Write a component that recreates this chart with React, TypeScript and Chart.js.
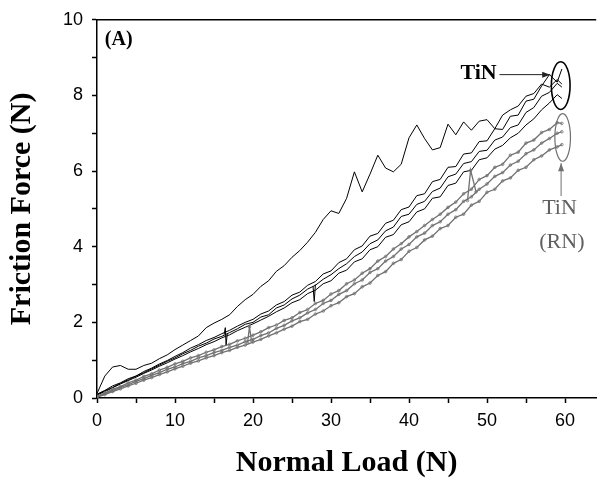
import { useEffect, useRef } from 'react';
import { Chart, registerables } from 'chart.js';

Chart.register(...registerables);

// Normal load sampling (N)
const loadX = [0,1,2,3,4,5,6,7,8,9,10,11,12,13,14,15,16,17,18,19,20,21,22,23,24,25,26,27,28,29,30,31,32,33,34,35,36,37,38,39,40,41,42,43,44,45,46,47,48,49,50,51,52,53,54,55,56,57,58,59,59.6];

// TiN: the outlying scratch run (thin upper trace)
const tinRun0 = [0.12,0.58,0.82,0.86,0.76,0.76,0.86,0.92,1.04,1.14,1.28,1.40,1.52,1.64,1.86,1.98,2.08,2.20,2.42,2.60,2.74,2.95,3.10,3.35,3.50,3.72,3.90,4.12,4.38,4.72,4.95,4.88,5.28,5.98,5.45,5.92,6.42,6.08,5.98,6.18,6.88,7.22,6.86,6.56,6.62,7.24,6.96,7.30,7.08,7.32,7.36,7.12,7.48,7.62,7.72,7.98,8.05,8.30,8.22,8.42,8.30];
// TiN: three overlapping runs
const tinRun1 = [0.10,0.20,0.32,0.40,0.51,0.58,0.70,0.79,0.90,0.99,1.10,1.20,1.32,1.41,1.52,1.60,1.70,1.79,1.90,2.00,2.08,2.22,2.30,2.46,2.55,2.72,2.80,2.98,3.08,3.28,3.36,3.58,3.68,3.92,4.02,4.28,4.35,4.62,4.70,4.98,5.05,5.35,5.40,5.72,5.78,6.10,6.12,6.45,6.48,6.78,6.80,7.12,7.10,7.45,7.48,7.85,7.90,8.25,8.55,8.35,8.70];
const tinRun2 = [0.09,0.19,0.28,0.39,0.48,0.58,0.67,0.77,0.87,0.97,1.06,1.17,1.26,1.37,1.45,1.56,1.63,1.73,1.83,1.95,2.00,2.14,2.20,2.38,2.46,2.62,2.72,2.88,2.98,3.14,3.26,3.42,3.55,3.74,3.86,4.08,4.18,4.42,4.52,4.80,4.86,5.12,5.20,5.46,5.55,5.85,5.92,6.20,6.25,6.52,6.55,6.82,6.90,7.15,7.22,7.55,7.68,7.98,8.08,8.32,8.22];
const tinRun3 = [0.08,0.17,0.27,0.37,0.46,0.55,0.65,0.74,0.84,0.93,1.03,1.12,1.22,1.31,1.41,1.49,1.59,1.67,1.78,1.87,1.96,2.06,2.16,2.28,2.38,2.52,2.60,2.76,2.85,3.02,3.10,3.30,3.38,3.60,3.68,3.92,4.00,4.25,4.32,4.58,4.66,4.92,5.00,5.28,5.32,5.62,5.68,5.98,6.02,6.30,6.35,6.58,6.68,6.88,7.00,7.22,7.38,7.62,7.80,8.02,7.92];
// TiN (RN): three runs
const rnRun1 = [0.05,0.13,0.23,0.30,0.40,0.47,0.57,0.64,0.74,0.81,0.90,0.97,1.06,1.12,1.21,1.27,1.36,1.42,1.51,1.58,1.66,1.75,1.86,1.93,2.05,2.12,2.26,2.34,2.50,2.58,2.75,2.84,3.02,3.12,3.30,3.42,3.62,3.74,3.94,4.08,4.26,4.40,4.56,4.72,4.86,5.04,5.18,5.40,5.52,5.78,5.88,6.10,6.18,6.42,6.50,6.74,6.82,7.02,7.10,7.28,7.26];
const rnRun2 = [0.03,0.12,0.19,0.28,0.35,0.44,0.51,0.60,0.67,0.76,0.82,0.91,0.97,1.06,1.12,1.20,1.26,1.34,1.40,1.49,1.55,1.65,1.72,1.84,1.92,2.04,2.12,2.25,2.34,2.50,2.58,2.74,2.84,3.02,3.12,3.32,3.42,3.62,3.74,3.94,4.06,4.26,4.36,4.56,4.66,4.86,4.98,5.20,5.32,5.52,5.66,5.86,5.96,6.16,6.26,6.46,6.56,6.74,6.86,7.00,7.04];
const rnRun3 = [0.02,0.09,0.17,0.24,0.32,0.39,0.47,0.54,0.62,0.69,0.77,0.84,0.92,0.98,1.06,1.12,1.20,1.26,1.34,1.40,1.48,1.55,1.64,1.72,1.82,1.90,2.02,2.08,2.22,2.30,2.44,2.52,2.68,2.76,2.94,3.04,3.24,3.34,3.56,3.66,3.88,3.98,4.18,4.28,4.48,4.56,4.78,4.86,5.10,5.20,5.44,5.52,5.74,5.82,6.02,6.10,6.30,6.40,6.56,6.64,6.70];

// short transient spikes seen on individual runs
const spikeTinAX = [16.3, 16.45, 16.55, 16.7];
const spikeTinAY = [1.68, 1.86, 1.40, 1.70];
const spikeRnX = [19.3, 19.55, 19.8];
const spikeRnY = [1.46, 1.88, 1.52];
const spikeTinBX = [27.7, 27.85, 28.0];
const spikeTinBY = [2.95, 2.55, 3.00];
const spikeRnBX = [47.5, 47.9, 48.6];
const spikeRnBY = [5.22, 6.02, 5.45];

const xMajorTicks = [0, 10, 20, 30, 40, 50, 60];
const yMajorTicks = [0, 2, 4, 6, 8, 10];

// annotation anchors (data units)
const panelLabel = '(A)';
const panelPos = [1.0, 9.74];
const tinLabel = 'TiN';
const tinLabelPos = [46.6, 8.58];
const tinArrow = [51.6, 8.55, 58.1, 8.55];
const tinEllipse = [59.45, 8.26, 1.2, 0.63];
const rnLabels = ['TiN', '(RN)'];
const rnLabelPos = [[59.3, 5.03], [59.6, 4.13]];
const rnArrow = [59.5, 5.34, 59.5, 6.21];
const rnEllipse = [59.7, 6.89, 1.0, 0.63];

const BLACK = '#000000';
const GRAY = '#707070';

const pts = (xs: number[], ys: number[]) => xs.map((x, i) => ({ x, y: ys[i] }));

function arrow(ctx: CanvasRenderingContext2D, x1: number, y1: number, x2: number, y2: number, color: string) {
  ctx.strokeStyle = color;
  ctx.fillStyle = color;
  ctx.lineWidth = 1;
  ctx.beginPath();
  ctx.moveTo(x1, y1);
  ctx.lineTo(x2, y2);
  ctx.stroke();
  const a = Math.atan2(y2 - y1, x2 - x1);
  const L = 8, W = 3;
  ctx.beginPath();
  ctx.moveTo(x2, y2);
  ctx.lineTo(x2 - L * Math.cos(a) + W * Math.sin(a), y2 - L * Math.sin(a) - W * Math.cos(a));
  ctx.lineTo(x2 - L * Math.cos(a) - W * Math.sin(a), y2 - L * Math.sin(a) + W * Math.cos(a));
  ctx.closePath();
  ctx.fill();
}

const annotPlugin = {
  id: 'annot',
  afterDatasetsDraw(chart: any) {
    const { ctx, chartArea } = chart;
    const xs = chart.scales.x;
    const ys = chart.scales.y;
    const px = (v: number) => xs.getPixelForValue(v);
    const py = (v: number) => ys.getPixelForValue(v);
    ctx.save();
    // top frame line
    ctx.strokeStyle = BLACK;
    ctx.lineWidth = 1.5;
    ctx.beginPath();
    ctx.moveTo(chartArea.left, chartArea.top);
    ctx.lineTo(chartArea.right, chartArea.top);
    ctx.stroke();

    // panel label
    ctx.fillStyle = BLACK;
    ctx.font = "bold 20px 'Liberation Serif', serif";
    ctx.textAlign = 'left';
    ctx.textBaseline = 'top';
    ctx.fillText(panelLabel, px(panelPos[0]), py(panelPos[1]));

    // TiN label + arrow + ellipse
    ctx.font = "bold 22px 'Liberation Serif', serif";
    ctx.textBaseline = 'middle';
    ctx.fillText(tinLabel, px(tinLabelPos[0]), py(tinLabelPos[1]));
    arrow(ctx, px(tinArrow[0]), py(tinArrow[1]), px(tinArrow[2]), py(tinArrow[3]), '#222');
    ctx.strokeStyle = BLACK;
    ctx.lineWidth = 1.6;
    ctx.beginPath();
    ctx.ellipse(px(tinEllipse[0]), py(tinEllipse[1]),
      Math.abs(px(tinEllipse[0] + tinEllipse[2]) - px(tinEllipse[0])),
      Math.abs(py(tinEllipse[1] + tinEllipse[3]) - py(tinEllipse[1])), 0, 0, Math.PI * 2);
    ctx.stroke();

    // RN ellipse + arrow + label
    ctx.strokeStyle = GRAY;
    ctx.lineWidth = 1.2;
    ctx.beginPath();
    ctx.ellipse(px(rnEllipse[0]), py(rnEllipse[1]),
      Math.abs(px(rnEllipse[0] + rnEllipse[2]) - px(rnEllipse[0])),
      Math.abs(py(rnEllipse[1] + rnEllipse[3]) - py(rnEllipse[1])), 0, 0, Math.PI * 2);
    ctx.stroke();
    arrow(ctx, px(rnArrow[0]), py(rnArrow[1]), px(rnArrow[2]), py(rnArrow[3]), GRAY);
    ctx.fillStyle = '#606060';
    ctx.font = "22px 'Liberation Serif', serif";
    ctx.textAlign = 'center';
    rnLabels.forEach((t, i) => ctx.fillText(t, px(rnLabelPos[i][0]), py(rnLabelPos[i][1])));
    ctx.restore();
  },
};

export default function App() {
  const ref = useRef<HTMLCanvasElement | null>(null);
  useEffect(() => {
    document.body.style.margin = '0';
    if (!ref.current) return;
    const tinLine = (data: any) => ({ data, borderColor: BLACK, borderWidth: 1, pointRadius: 0, tension: 0, fill: false });
    const rnLine = (data: any) => ({ data, borderColor: GRAY, borderWidth: 1.3, pointRadius: 1.3, pointBorderWidth: 0.8, pointBorderColor: GRAY, pointBackgroundColor: 'rgba(255,255,255,0)', tension: 0, fill: false });
    const chart = new Chart(ref.current, {
      type: 'line',
      data: {
        datasets: [
          rnLine(pts(loadX, rnRun1)),
          rnLine(pts(loadX, rnRun2)),
          rnLine(pts(loadX, rnRun3)),
          rnLine(pts(spikeRnX, spikeRnY)),
          rnLine(pts(spikeRnBX, spikeRnBY)),
          tinLine(pts(loadX, tinRun1)),
          tinLine(pts(loadX, tinRun2)),
          tinLine(pts(loadX, tinRun3)),
          tinLine(pts(loadX, tinRun0)),
          tinLine(pts(spikeTinAX, spikeTinAY)),
          tinLine(pts(spikeTinBX, spikeTinBY)),
        ] as any,
      },
      options: {
        responsive: false,
        animation: false,
        layout: { padding: { top: 18, right: 3, left: 0, bottom: 0 } },
        plugins: { legend: { display: false }, tooltip: { enabled: false } },
        scales: {
          x: {
            type: 'linear',
            min: 0,
            max: 64,
            afterFit: (s: any) => { s.height = 84; },
            border: { display: true, color: BLACK, width: 1.5 },
            grid: { display: true, drawOnChartArea: false, drawTicks: true, tickLength: 5, tickColor: BLACK, tickWidth: 1.5 },
            ticks: {
              stepSize: 5,
              includeBounds: false,
              autoSkip: false,
              maxRotation: 0,
              padding: 7,
              color: BLACK,
              font: { family: "'Liberation Sans', Arial, sans-serif", size: 18 },
              callback: (v: any) => (xMajorTicks.includes(Number(v)) ? String(v) : ''),
            },
            title: {
              display: true,
              text: 'Normal Load (N)',
              color: BLACK,
              font: { family: "'Liberation Serif', serif", size: 30, weight: 'bold' },
              padding: { top: 0, bottom: 1 },
            },
          },
          y: {
            type: 'linear',
            min: 0,
            max: 10,
            afterFit: (s: any) => { s.width = 97; },
            border: { display: true, color: BLACK, width: 1.5 },
            grid: { display: true, drawOnChartArea: false, drawTicks: true, tickLength: 5, tickColor: BLACK, tickWidth: 1.5 },
            ticks: {
              stepSize: 1,
              autoSkip: false,
              padding: 9,
              color: BLACK,
              font: { family: "'Liberation Sans', Arial, sans-serif", size: 18 },
              callback: (v: any) => (yMajorTicks.includes(Number(v)) ? String(v) : ''),
            },
            title: {
              display: true,
              text: 'Friction Force (N)',
              color: BLACK,
              font: { family: "'Liberation Serif', serif", size: 30, weight: 'bold' },
              padding: { top: 4, bottom: 0 },
            },
          },
        },
      } as any,
      plugins: [annotPlugin],
    });
    return () => chart.destroy();
  }, []);
  return <canvas ref={ref} width={601} height={482} style={{ display: 'block', width: 601, height: 482 }} />;
}
